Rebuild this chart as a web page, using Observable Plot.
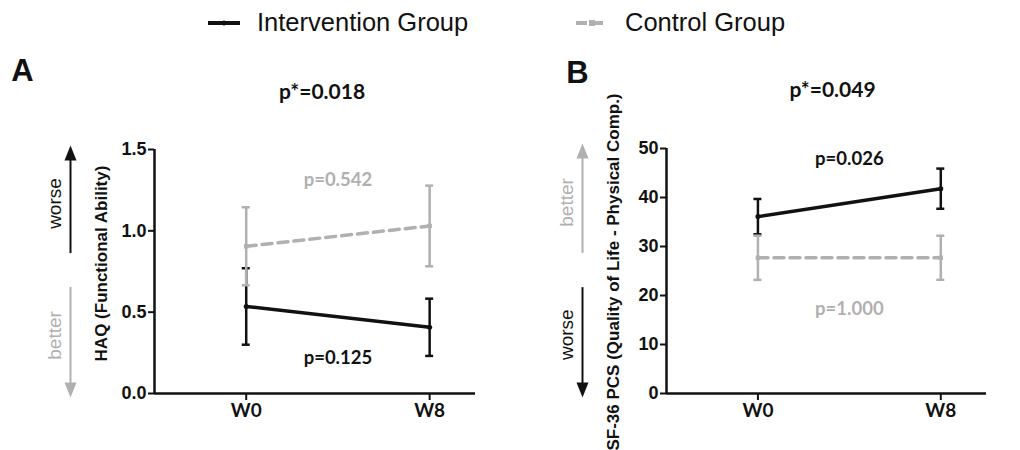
<!DOCTYPE html>
<html><head><meta charset="utf-8">
<script src="https://cdn.jsdelivr.net/npm/d3@7"></script>
<script src="https://cdn.jsdelivr.net/npm/@observablehq/plot@0.6"></script>
<style>
body{margin:0;background:#fff;}
#root{position:relative;width:1020px;height:450px;overflow:hidden;background:#fff;}
#legend{position:absolute;left:0;top:0;width:1020px;height:45px;font-family:"Liberation Sans",Arial,sans-serif;font-size:25.5px;color:#111;}
.item{position:absolute;top:0;height:45px;display:flex;align-items:center;white-space:nowrap;}
.item svg{margin-right:17px;}
#panels{position:absolute;left:0;top:45px;display:flex;}
</style></head><body>
<div id="root"><div id="legend"></div><div id="panels"></div></div>
<script>
// ---------- data ----------
const weeks = [0, 8];
const weekLabels = ["W0", "W8"];
const groups = ["Intervention Group", "Control Group"];
const groupColors = ["#111111", "#b0b0b0"];

// Panel A: HAQ (mean ± error)
const haqIntMean = [0.535, 0.407];
const haqIntErr  = [0.235, 0.176];
const haqCtlMean = [0.905, 1.030];
const haqCtlErr  = [0.240, 0.248];
const haqTicks = [0, 0.5, 1.0, 1.5];

// Panel B: SF-36 PCS (mean ± error)
const pcsIntMean = [36.1, 41.8];
const pcsIntErr  = [3.6, 4.1];
const pcsCtlMean = [27.7, 27.7];
const pcsCtlErr  = [4.5, 4.5];
const pcsTicks = [0, 10, 20, 30, 40, 50];

// texts
const panelLetters = ["A", "B"];
const overallP = ["p*=0.018", "p*=0.049"];
const yLabels = ["HAQ (Functional Ability)", "SF-36 PCS (Quality of Life - Physical Comp.)"];
const haqPLabels = ["p=0.125", "p=0.542"];   // intervention, control
const haqPLabelY = [0.22, 1.315];
const pcsPLabels = ["p=0.026", "p=1.000"];
const pcsPLabelY = [47.8, 17.3];

// direction arrows (label, colour index, tail, shaft end, tip, label centre)
const haqArrowLabels = ["worse", "better"];
const haqArrowColor = [0, 1];
const haqArrowTail = [0.86, 0.652];
const haqArrowShaftEnd = [1.45, 0.05];
const haqArrowTip = [1.525, -0.025];
const haqArrowLabelY = [1.168, 0.357];

const pcsArrowLabels = ["better", "worse"];
const pcsArrowColor = [1, 0];
const pcsArrowTail = [28.6, 21.6];
const pcsArrowShaftEnd = [48.6, 1.6];
const pcsArrowTip = [51.0, -0.8];
const pcsArrowLabelY = [39.0, 12.0];

// ---------- fonts ----------
const ARIAL = '"Liberation Sans", Arial, sans-serif';
const CALI = 'Lato, "Open Sans", sans-serif';

// ---------- legend ----------
const legend = document.getElementById("legend");
const legendX = [208, 576];
groups.forEach((g, i) => {
  const it = document.createElement("div");
  it.className = "item";
  it.style.left = legendX[i] + "px";
  const dash = i === 1 ? 'stroke-dasharray="11,5"' : "";
  const mark = i === 1
    ? `<rect x="13" y="2" width="6" height="6" fill="${groupColors[i]}"/>`
    : `<circle cx="16" cy="5" r="2.5" fill="${groupColors[i]}"/>`;
  it.innerHTML = `<svg width="32" height="10"><line x1="0" x2="32" y1="5" y2="5" stroke="${groupColors[i]}" stroke-width="4" ${dash}/>${mark}</svg><span>${g}</span>`;
  legend.appendChild(it);
});

// ---------- panels ----------
function arrowSymbol(up) {
  return {draw(ctx) {
    const w = 6, h = 15, s = up ? 1 : -1;
    ctx.moveTo(0, 0); ctx.lineTo(w, s * h); ctx.lineTo(-w, s * h); ctx.closePath();
  }};
}

function makePanel(o) {
  const rows = [];
  o.series.forEach((s, gi) => {
    weeks.forEach((w, i) => rows.push({group: groups[gi], gi, week: w, mean: s.mean[i], lo: s.mean[i] - s.err[i], hi: s.mean[i] + s.err[i]}));
  });
  const arrows = o.arrowLabels.map((l, i) => ({label: l, c: groupColors[o.arrowColor[i]], tail: o.arrowTail[i], end: o.arrowShaftEnd[i], tip: o.arrowTip[i], ly: o.arrowLabelY[i], up: o.arrowTip[i] > o.arrowTail[i]}));
  const xDom = [-4, 10];
  const marks = [];
  // axis lines
  marks.push(Plot.ruleX([xDom[0]], {y1: o.yDomain[0], y2: o.yDomain[1], stroke: "#111", strokeWidth: 2.5}));
  marks.push(Plot.ruleY([o.yDomain[0]], {x1: xDom[0], x2: xDom[1], stroke: "#111", strokeWidth: 2.5}));
  marks.push(Plot.axisY(o.yTicks, {tickFormat: o.tickFormat, tickSize: 6, tickPadding: 2, strokeWidth: 2, color: "#111", fontFamily: ARIAL, fontSize: 18, fontWeight: "bold", label: null}));
  marks.push(Plot.axisX(weeks, {tickFormat: d => weekLabels[weeks.indexOf(d)], tickSize: 7, tickPadding: 3, strokeWidth: 2, color: "#111", fontFamily: CALI, fontSize: 19, fontWeight: "bold", label: null}));
  // series
  [0, 1].forEach(gi => {
    const d = rows.filter(r => r.gi === gi);
    const c = groupColors[gi];
    marks.push(Plot.ruleX(d, {x: "week", y1: "lo", y2: "hi", stroke: c, strokeWidth: 2.5}));
    marks.push(Plot.ruleY(d, {x1: "week", x2: "week", y: "hi", insetLeft: -4, insetRight: -4, stroke: c, strokeWidth: 2.5}));
    marks.push(Plot.ruleY(d, {x1: "week", x2: "week", y: "lo", insetLeft: -4, insetRight: -4, stroke: c, strokeWidth: 2.5}));
    marks.push(Plot.line(d, {x: "week", y: "mean", stroke: c, strokeWidth: 3.5, strokeDasharray: gi === 1 ? "10,6" : null}));
    marks.push(Plot.dot(d, {x: "week", y: "mean", r: 2.5, fill: c, symbol: gi === 1 ? "square" : "circle"}));
  });
  // p labels
  marks.push(Plot.text(o.pLabels, {x: d3.mean(weeks), y: (d, i) => o.pLabelY[i], text: d => d, fill: (d, i) => groupColors[i], fontFamily: CALI, fontSize: 18.5, fontWeight: "bold"}));
  // titles
  marks.push(Plot.text([o.letter], {frameAnchor: "top-left", text: d => d, textAnchor: "middle", lineAnchor: "middle", dx: o.letterDx, dy: o.letterDy, fontFamily: ARIAL, fontSize: 31, fontWeight: "bold", fill: "#111"}));
  marks.push(Plot.text([o.title], {frameAnchor: "top", text: d => d, textAnchor: "middle", lineAnchor: "middle", dx: o.titleDx, dy: o.titleDy, fontFamily: CALI, fontSize: 21, fontWeight: "bold", fill: "#111"}));
  marks.push(Plot.text([o.yLabel], {frameAnchor: "left", text: d => d, textAnchor: "middle", lineAnchor: "middle", rotate: -90, dx: -53, dy: o.yLabelDy, fontFamily: ARIAL, fontSize: 17, fontWeight: "bold", fill: "#111"}));
  // direction arrows
  marks.push(Plot.ruleX(arrows, {x: xDom[0], y1: "tail", y2: "end", stroke: "c", strokeWidth: 2, dx: -84}));
  marks.push(Plot.dot(arrows.filter(a => a.up), {x: xDom[0], y: "tip", fill: "c", r: 5, symbol: arrowSymbol(true), dx: -84}));
  marks.push(Plot.dot(arrows.filter(a => !a.up), {x: xDom[0], y: "tip", fill: "c", r: 5, symbol: arrowSymbol(false), dx: -84}));
  marks.push(Plot.text(arrows, {x: xDom[0], y: "ly", text: "label", fill: "c", rotate: -90, dx: -100, fontFamily: ARIAL, fontSize: 19}));

  return Plot.plot({
    width: 510, height: 405,
    marginLeft: o.marginLeft, marginRight: o.marginRight, marginTop: o.marginTop, marginBottom: 57,
    x: {domain: xDom, label: null},
    y: {domain: o.yDomain, label: null},
    style: {background: "transparent", overflow: "visible"},
    marks
  });
}

const panelA = makePanel({
  series: [{mean: haqIntMean, err: haqIntErr}, {mean: haqCtlMean, err: haqCtlErr}],
  yDomain: [0, 1.5], yTicks: haqTicks, tickFormat: d3.format(".1f"),
  letter: panelLetters[0], letterDx: -132, letterDy: -78,
  title: overallP[0], titleDx: 7, titleDy: -57,
  yLabel: yLabels[0], yLabelDy: -8,
  pLabels: haqPLabels, pLabelY: haqPLabelY,
  arrowLabels: haqArrowLabels, arrowColor: haqArrowColor, arrowTail: haqArrowTail, arrowShaftEnd: haqArrowShaftEnd, arrowTip: haqArrowTip, arrowLabelY: haqArrowLabelY,
  marginLeft: 154, marginRight: 35, marginTop: 104
});
const panelB = makePanel({
  series: [{mean: pcsIntMean, err: pcsIntErr}, {mean: pcsCtlMean, err: pcsCtlErr}],
  yDomain: [0, 50], yTicks: pcsTicks, tickFormat: d3.format("d"),
  letter: panelLetters[1], letterDx: -89, letterDy: -75,
  title: overallP[1], titleDx: 6, titleDy: -58,
  yLabel: yLabels[1], yLabelDy: 1,
  pLabels: pcsPLabels, pLabelY: pcsPLabelY,
  arrowLabels: pcsArrowLabels, arrowColor: pcsArrowColor, arrowTail: pcsArrowTail, arrowShaftEnd: pcsArrowShaftEnd, arrowTip: pcsArrowTip, arrowLabelY: pcsArrowLabelY,
  marginLeft: 156, marginRight: 34, marginTop: 103
});
const panels = document.getElementById("panels");
panels.appendChild(panelA);
panels.appendChild(panelB);
</script>
</body></html>
